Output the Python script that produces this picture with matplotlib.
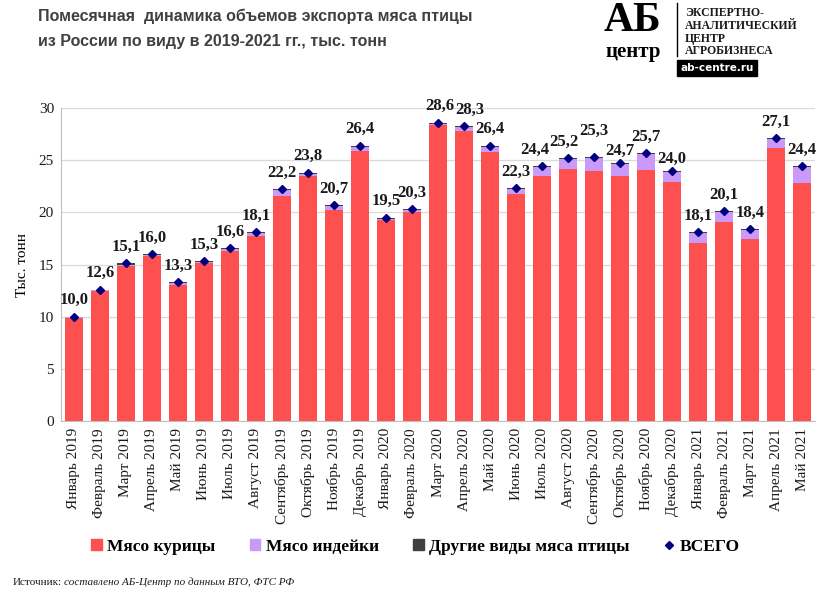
import matplotlib.pyplot as plt
from matplotlib.patches import Rectangle
from matplotlib.lines import Line2D
import numpy as np

months = ["Январь 2019", "Февраль 2019", "Март 2019", "Апрель 2019", "Май 2019",
          "Июнь 2019", "Июль 2019", "Август 2019", "Сентябрь 2019", "Октябрь 2019",
          "Ноябрь 2019", "Декабрь 2019", "Январь 2020", "Февраль 2020", "Март 2020",
          "Апрель 2020", "Май 2020", "Июнь 2020", "Июль 2020", "Август 2020",
          "Сентябрь 2020", "Октябрь 2020", "Ноябрь 2020", "Декабрь 2020", "Январь 2021",
          "Февраль 2021", "Март 2021", "Апрель 2021", "Май 2021"]

chicken = [9.9, 12.5, 14.9, 15.8, 13.0, 15.1, 16.3, 17.7, 21.6, 23.5,
           20.2, 25.9, 19.3, 20.0, 28.4, 27.8, 25.8, 21.8, 23.5, 24.2,
           24.0, 23.5, 24.1, 22.9, 17.1, 19.1, 17.4, 26.2, 22.8]
turkey = [0.05, 0.05, 0.1, 0.1, 0.2, 0.1, 0.2, 0.3, 0.5, 0.2,
          0.4, 0.4, 0.1, 0.2, 0.1, 0.4, 0.5, 0.4, 0.8, 0.9,
          1.2, 1.1, 1.5, 1.0, 0.9, 0.9, 0.9, 0.8, 1.5]
other = [0.05, 0.05, 0.1, 0.1, 0.1, 0.1, 0.1, 0.1, 0.1, 0.1,
         0.1, 0.1, 0.1, 0.1, 0.1, 0.1, 0.1, 0.1, 0.1, 0.1,
         0.1, 0.1, 0.1, 0.1, 0.1, 0.1, 0.1, 0.1, 0.1]
total = [10.0, 12.6, 15.1, 16.0, 13.3, 15.3, 16.6, 18.1, 22.2, 23.8,
         20.7, 26.4, 19.5, 20.3, 28.6, 28.3, 26.4, 22.3, 24.4, 25.2,
         25.3, 24.7, 25.7, 24.0, 18.1, 20.1, 18.4, 27.1, 24.4]

red = "#FF5050"
purple = "#C99AF7"
dark = "#404040"
navy = "#000080"
serif = ["Liberation Serif", "DejaVu Serif"]

# labels that Excel nudged to avoid collisions (index: dx, dy in points)
nudge = {14: (1, 0), 15: (4, 0), 18: (-5, 0), 19: (-3, 0), 20: (0, 7),
         21: (0, -3), 23: (0, -3)}

fig = plt.figure(figsize=(8.23, 5.94), dpi=100)
ax = fig.add_axes([0.0741, 0.2912, 0.9162, 0.527])

x = np.arange(len(months))
w = 0.69
ax.bar(x, chicken, w, color=red, zorder=2)
ax.bar(x, turkey, w, bottom=chicken, color=purple, zorder=2)
base2 = np.array(chicken) + np.array(turkey)
ax.bar(x, other, w, bottom=base2, color=dark, zorder=2)
ax.plot(x, total, linestyle="none", marker="D", markersize=4, color=navy, zorder=3)

for i, (xi, t) in enumerate(zip(x, total)):
    dx, dy = nudge.get(i, (0, 0))
    ax.annotate(f"{t:.1f}".replace(".", ","), (xi, t), xytext=(dx, 6 + dy),
                textcoords="offset points", ha="center", va="bottom",
                fontsize=12, fontweight="bold", family=serif, color="#1a1a1a")

ax.set_xlim(-0.5, len(months) - 0.5)
ax.set_ylim(0, 30)
ax.set_yticks(range(0, 31, 5))
ax.yaxis.grid(True, color="#D9D9D9", linewidth=0.9, zorder=0)
ax.set_axisbelow(True)
for s in ["top", "right"]:
    ax.spines[s].set_visible(False)
ax.spines["left"].set_color("#BFBFBF")
ax.spines["bottom"].set_color("#BFBFBF")
ax.tick_params(axis="both", length=0, labelsize=11, colors="#1a1a1a", pad=5)
ax.set_xticks(x)
ax.set_xticklabels(months, rotation=90, family=serif)
for lab in ax.get_yticklabels():
    lab.set_family(serif)
ax.set_ylabel("Тыс. тонн", family=serif, fontsize=11, labelpad=7)

handles = [Rectangle((0, 0), 1, 1, color=red), Rectangle((0, 0), 1, 1, color=purple),
           Rectangle((0, 0), 1, 1, color=dark),
           Line2D([], [], linestyle="none", marker="D", markersize=4, color=navy)]
labels = ["Мясо курицы", "Мясо индейки", "Другие виды мяса птицы", "ВСЕГО"]
fig.legend(handles, labels, loc="center", bbox_to_anchor=(0.505, 0.079), ncol=4,
           frameon=False, handlelength=0.6, handleheight=0.6, handletextpad=0.3,
           columnspacing=2.0, prop={"family": serif, "weight": "bold", "size": 12.5})

# source line
fig.text(0.016, 0.015, "Источник:", family=serif, fontsize=8, color="#1a1a1a")
fig.text(0.078, 0.015, "составлено АБ-Центр по данным ВТО, ФТС РФ", family=serif,
         style="italic", fontsize=8, color="#1a1a1a")

# title
title_font = ["Liberation Sans", "DejaVu Sans"]
fig.text(0.046, 0.985, "Помесячная  динамика объемов экспорта мяса птицы",
         family=title_font, fontweight="bold", fontsize=11.5, color="#404040", va="top")
fig.text(0.046, 0.942, "из России по виду в 2019-2021 гг., тыс. тонн",
         family=title_font, fontweight="bold", fontsize=11.5, color="#404040", va="top")

# logo
fig.text(0.769, 0.932, "АБ", family=serif, fontweight="bold", fontsize=30,
         color="black", ha="center", va="bottom")
fig.text(0.769, 0.896, "центр", family=serif, fontweight="bold", fontsize=15,
         color="black", ha="center", va="bottom")
fig.add_artist(Line2D([0.8225, 0.8225], [0.905, 0.995], color="black", linewidth=1))
logo_lines = ["ЭКСПЕРТНО-", "АНАЛИТИЧЕСКИЙ", "ЦЕНТР", "АГРОБИЗНЕСА"]
for i, t in enumerate(logo_lines):
    fig.text(0.832, 0.988 - i * 0.0215, t, family=serif, fontweight="bold",
             fontsize=8.5, color="#1a1a1a", va="top")
fig.text(0.871, 0.885, "ab-centre.ru", family="DejaVu Sans", fontweight="bold",
         fontsize=7.5, color="white", ha="center", va="center",
         bbox=dict(boxstyle="square,pad=0.3", facecolor="black", edgecolor="black"))

plt.savefig("out.png", dpi=100)
